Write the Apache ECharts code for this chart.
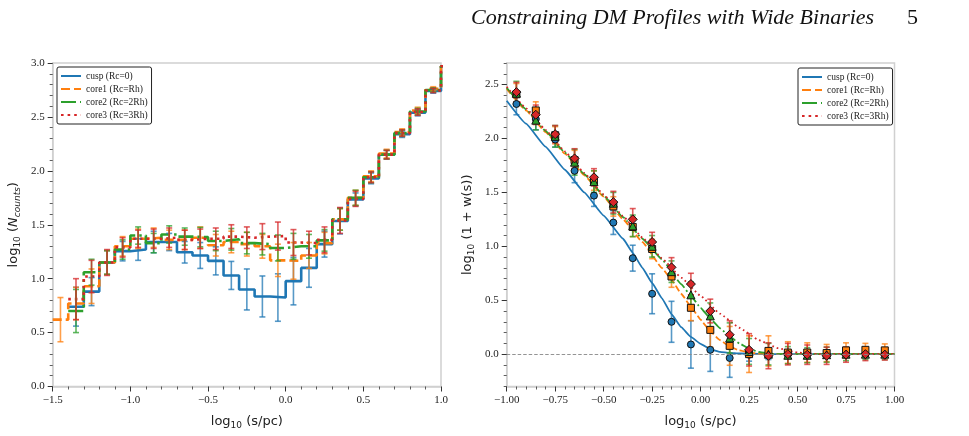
<!DOCTYPE html>
<html><head><meta charset="utf-8">
<script src="https://cdn.jsdelivr.net/npm/echarts@6/dist/echarts.min.js"></script>
<style>html,body{margin:0;padding:0;background:#fff}#c{width:969px;height:436px}</style>
</head><body><div id="c"></div>
<script>
// ---------- shared ----------
const seriesNames = ['cusp (Rc=0)', 'core1 (Rc=Rh)', 'core2 (Rc=2Rh)', 'core3 (Rc=3Rh)'];
const seriesColors = ['#1f77b4', '#ff7f0e', '#2ca02c', '#d62728'];

// ---------- left panel: log10(N_counts) histograms ----------
const binCenters = [-1.45,-1.35,-1.25,-1.15,-1.05,-0.95,-0.85,-0.75,-0.65,-0.55,-0.45,-0.35,-0.25,-0.15,-0.05,0.05,0.15,0.25,0.35,0.45,0.55,0.65,0.75,0.85,0.95,1.05];
const countsCusp  = [null,0.74,0.88,1.15,1.255,1.27,1.34,1.34,1.245,1.215,1.165,1.03,0.90,0.835,0.825,0.977,1.10,1.32,1.535,1.735,1.93,2.15,2.34,2.54,2.74,2.97];
const countsCore1 = [0.62,0.77,0.93,1.15,1.30,1.37,1.38,1.36,1.36,1.38,1.31,1.34,1.32,1.30,1.17,1.165,1.215,1.33,1.55,1.75,1.95,2.16,2.36,2.56,2.76,2.97];
const countsCore2 = [null,0.70,1.06,1.15,1.27,1.40,1.33,1.41,1.39,1.385,1.35,1.365,1.33,1.32,1.285,1.30,1.30,1.355,1.55,1.75,1.94,2.15,2.35,2.55,2.75,2.97];
const countsCore3 = [null,0.81,1.02,1.15,1.29,1.37,1.37,1.38,1.36,1.37,1.37,1.39,1.38,1.39,1.395,1.335,1.33,1.36,1.54,1.74,1.94,2.15,2.35,2.545,2.745,2.97];
const countErrCusp  = [null,0.18,0.13,0.11,0.09,0.10,0.10,0.08,0.10,0.12,0.13,0.13,0.19,0.19,0.22,0.22,0.18,0.12,0.12,0.06,0.05,0.04,0.03,0.03,0.02,null];
const countErrCore1 = [0.205,0.15,0.16,0.11,0.09,0.09,0.09,0.09,0.09,0.10,0.10,0.10,0.11,0.11,0.15,0.17,0.12,0.10,0.10,0.07,0.05,0.04,0.03,0.03,0.02,null];
const countErrCore2 = [null,0.20,0.12,0.11,0.09,0.08,0.09,0.08,0.08,0.09,0.09,0.10,0.10,0.10,0.12,0.12,0.11,0.10,0.10,0.07,0.05,0.04,0.03,0.03,0.02,null];
const countErrCore3 = [null,0.19,0.15,0.12,0.09,0.08,0.09,0.09,0.09,0.09,0.10,0.11,0.10,0.12,0.13,0.12,0.11,0.12,0.12,0.07,0.05,0.04,0.03,0.03,0.02,null];
const leftXTicks = [-1.5, 1.0, 0.5];   // min, max, interval
const leftYTicks = [0, 3.0, 0.5];

// ---------- right panel: log10(1 + w(s)) ----------
const sCenters = [-0.95,-0.85,-0.75,-0.65,-0.55,-0.45,-0.35,-0.25,-0.15,-0.05,0.05,0.15,0.25,0.35,0.45,0.55,0.65,0.75,0.85,0.95];
const wCusp  = [2.32,2.18,1.99,1.70,1.47,1.22,0.89,0.56,0.30,0.09,0.04,-0.035,-0.005,0.0,0.0,0.0,0.0,0.005,0.005,0.01];
const wCore1 = [2.41,2.26,2.03,1.80,1.61,1.37,1.18,0.975,0.72,0.43,0.225,0.077,0.0,0.03,0.015,0.015,0.01,0.035,0.04,0.035];
const wCore2 = [2.42,2.17,2.02,1.78,1.60,1.40,1.19,1.00,0.765,0.55,0.355,0.15,0.025,0.0,-0.01,-0.01,-0.005,0.0,0.0,0.0];
const wCore3 = [2.43,2.22,2.04,1.815,1.64,1.41,1.25,1.04,0.805,0.65,0.40,0.18,0.04,-0.015,0.0,-0.005,-0.015,-0.005,0.0,-0.005];
const wErrCusp  = [0.10,0.10,0.07,0.11,0.10,0.11,0.12,0.185,0.19,0.22,0.20,0.18,0.06,0.05,0.04,0.04,0.03,0.03,0.03,0.03];
const wErrCore1 = [0.10,0.08,0.08,0.09,0.09,0.09,0.09,0.09,0.10,0.12,0.16,0.18,0.17,0.14,0.10,0.09,0.08,0.07,0.06,0.06];
const wErrCore2 = [0.11,0.09,0.10,0.12,0.10,0.10,0.10,0.10,0.10,0.12,0.12,0.14,0.12,0.10,0.08,0.07,0.07,0.06,0.05,0.05];
const wErrCore3 = [0.09,0.09,0.08,0.09,0.08,0.10,0.10,0.09,0.09,0.10,0.11,0.13,0.15,0.12,0.10,0.09,0.08,0.07,0.06,0.05];
// model curves
const curveXCusp  = [-1.0,-0.9,-0.8,-0.7,-0.6,-0.5,-0.4,-0.35,-0.3,-0.25,-0.2,-0.15,-0.1,-0.05,0.0,0.05,0.1,0.15,0.2,0.3,0.4,1.0];
const curveYCusp  = [2.35,2.137,1.924,1.71,1.50,1.285,1.07,0.94,0.80,0.66,0.52,0.37,0.25,0.16,0.095,0.045,0.022,0.012,0.006,0.002,0.0,0.0];
const curveXCore1 = [-1.0,-0.9,-0.8,-0.7,-0.6,-0.5,-0.4,-0.3,-0.2,-0.15,-0.1,-0.05,0.0,0.05,0.1,0.15,0.2,0.25,0.3,0.4,1.0];
const curveYCore1 = [2.46,2.26,2.06,1.86,1.66,1.46,1.25,1.04,0.80,0.69,0.56,0.44,0.32,0.21,0.13,0.07,0.035,0.015,0.005,0.0,0.0];
const curveXCore2 = [-1.0,-0.9,-0.8,-0.7,-0.6,-0.5,-0.4,-0.3,-0.2,-0.1,-0.05,0.0,0.05,0.1,0.15,0.2,0.25,0.3,0.35,0.4,1.0];
const curveYCore2 = [2.47,2.27,2.07,1.87,1.67,1.47,1.27,1.07,0.88,0.65,0.54,0.43,0.33,0.24,0.165,0.10,0.05,0.02,0.007,0.0,0.0];
const curveXCore3 = [-1.0,-0.9,-0.8,-0.7,-0.6,-0.5,-0.4,-0.3,-0.2,-0.1,0.0,0.1,0.2,0.3,0.4,0.5,0.6,1.0];
const curveYCore3 = [2.48,2.28,2.08,1.88,1.68,1.48,1.28,1.08,0.89,0.71,0.54,0.375,0.245,0.13,0.055,0.015,0.0,0.0];
const rightXTicks = [-1.0, 1.0, 0.25];
const rightYRange = [-0.3, 2.7];
const rightYMajor = [0, 0.5, 1.0, 1.5, 2.0, 2.5];

// ---------- helpers ----------
const counts = [countsCusp, countsCore1, countsCore2, countsCore3];
const countErrs = [countErrCusp, countErrCore1, countErrCore2, countErrCore3];
const wVals = [wCusp, wCore1, wCore2, wCore3];
const wErrs = [wErrCusp, wErrCore1, wErrCore2, wErrCore3];
const curveXs = [curveXCusp, curveXCore1, curveXCore2, curveXCore3];
const curveYs = [curveYCusp, curveYCore1, curveYCore2, curveYCore3];
const HALF_BIN = 0.05;

function stepData(centers, vals) {
  const out = [];
  let last = null;
  centers.forEach((c, i) => {
    if (vals[i] == null) return;
    out.push([c - HALF_BIN, vals[i]]);
    last = [c + HALF_BIN, vals[i]];
  });
  if (last) out.push(last);
  return out;
}
function errData(xs, vals, errs) {
  const out = [];
  xs.forEach((x, i) => {
    if (vals[i] == null || errs[i] == null) return;
    out.push([x, vals[i], errs[i]]);
  });
  return out;
}
function errRender(color, cap, width, opacity) {
  return function (params, api) {
    const x = api.value(0), y = api.value(1), e = api.value(2);
    const t = api.coord([x, y + e]), b = api.coord([x, y - e]);
    const st = { stroke: color, lineWidth: width, opacity: opacity };
    return { type: 'group', children: [
      { type: 'line', shape: { x1: t[0], y1: t[1], x2: b[0], y2: b[1] }, style: st },
      { type: 'line', shape: { x1: t[0] - cap, y1: t[1], x2: t[0] + cap, y2: t[1] }, style: st },
      { type: 'line', shape: { x1: b[0] - cap, y1: b[1], x2: b[0] + cap, y2: b[1] }, style: st }
    ]};
  };
}
const minus = s => s.replace('-', '\u2212');
const fmt = d => v => minus((Math.abs(v) < 1e-9 ? 0 : v).toFixed(d));

const dashL = [[], [9, 4], [15, 4, 2.5, 4], [2.6, 4]];
const dashR = [[], [6.5, 2.8], [11, 2.8, 1.8, 2.8], [1.8, 3]];
const markers = ['circle', 'rect', 'triangle', 'diamond'];
const markerSize = [7, 7, 8, 9];

const SERIF = 'Liberation Serif';
const SANS = 'DejaVu Sans';
const spine = '#d0d0d0';
const tickC = '#333';
const labelStyle = { fontFamily: SERIF, fontSize: 11, color: '#222' };
const richName = {
  t: { fontFamily: SANS, fontSize: 13, color: '#222' },
  s: { fontFamily: SANS, fontSize: 9, color: '#222', padding: [8, 0, 0, 0] },
  i: { fontFamily: SANS, fontSize: 13, color: '#222', fontStyle: 'italic' },
  si: { fontFamily: SANS, fontSize: 9, color: '#222', fontStyle: 'italic', padding: [8, 0, 0, 0] }
};

const series = [];
// left panel
for (let k = 0; k < 4; k++) {
  series.push({
    name: seriesNames[k], type: 'line', xAxisIndex: 0, yAxisIndex: 0,
    step: 'end', symbol: 'none', showSymbol: false, data: stepData(binCenters, counts[k]),
    lineStyle: { color: seriesColors[k], width: 2.6, type: dashL[k].length ? dashL[k] : 'solid' },
    itemStyle: { color: seriesColors[k] }, z: 2, clip: true, silent: true
  });
}
for (let k = 0; k < 4; k++) {
  series.push({
    name: seriesNames[k] + ' err', type: 'custom', xAxisIndex: 0, yAxisIndex: 0,
    renderItem: errRender(seriesColors[k], 3, 1.6, 0.75), encode: { x: 0, y: 1 },
    data: errData(binCenters, counts[k], countErrs[k]), z: 3, silent: true
  });
}
// right panel curves
for (let k = 0; k < 4; k++) {
  series.push({
    name: seriesNames[k], type: 'line', xAxisIndex: 1, yAxisIndex: 1,
    symbol: 'none', showSymbol: false, smooth: 0.1, smoothMonotone: 'x',
    data: curveXs[k].map((x, i) => [x, curveYs[k][i]]),
    lineStyle: { color: seriesColors[k], width: 1.8, type: dashR[k].length ? dashR[k] : 'solid' },
    itemStyle: { color: seriesColors[k] }, z: 2, silent: true,
    markLine: k === 0 ? { silent: true, symbol: 'none', label: { show: false },
      lineStyle: { color: '#888', width: 0.9, type: [3.5, 2] }, data: [{ yAxis: 0 }], animation: false } : undefined
  });
}
for (let k = 0; k < 4; k++) {
  series.push({
    name: seriesNames[k] + ' werr', type: 'custom', xAxisIndex: 1, yAxisIndex: 1,
    renderItem: errRender(seriesColors[k], 3, 1.6, 0.75), encode: { x: 0, y: 1 },
    data: errData(sCenters, wVals[k], wErrs[k]), z: 3, silent: true
  });
}
for (let k = 0; k < 4; k++) {
  series.push({
    name: seriesNames[k] + ' pts', type: 'scatter', xAxisIndex: 1, yAxisIndex: 1,
    symbol: markers[k], symbolSize: markerSize[k],
    data: sCenters.map((x, i) => [x, wVals[k][i]]),
    itemStyle: { color: seriesColors[k], borderColor: '#111', borderWidth: 1, opacity: 1 },
    z: 4, silent: true
  });
}

const legendBase = {
  data: seriesNames, orient: 'vertical', itemWidth: 20, itemHeight: 8, itemGap: 3,
  padding: [4, 4, 4, 3], borderColor: '#222', borderWidth: 1, borderRadius: 2,
  backgroundColor: '#fff', selectedMode: false,
  itemStyle: { opacity: 0, borderWidth: 0 },
  textStyle: { fontFamily: SERIF, fontSize: 9.5, color: '#222' }
};

const axisCommon = {
  axisLine: { show: true, onZero: false, lineStyle: { color: spine, width: 1.5 } },
  axisTick: { show: true, length: 5, lineStyle: { color: tickC, width: 1 } },
  minorTick: { show: true, splitNumber: 5, length: 3, lineStyle: { color: tickC, width: 0.8 } },
  splitLine: { show: false }, minorSplitLine: { show: false }
};

const option = {
  animation: false,
  backgroundColor: '#fff',
  title: [
    { text: 'Constraining DM Profiles with Wide Binaries', left: 471, top: 7, padding: 0,
      textStyle: { fontFamily: SERIF, fontStyle: 'italic', fontWeight: 'normal', fontSize: 22, color: '#111' } },
    { text: '5', left: 907, top: 7, padding: 0,
      textStyle: { fontFamily: SERIF, fontWeight: 'normal', fontSize: 22, color: '#111' } }
  ],
  legend: [
    Object.assign({}, legendBase, { left: 57, top: 67 }),
    Object.assign({}, legendBase, { left: 798, top: 68 })
  ],
  grid: [
    { left: 52.7, top: 63, width: 388.3, height: 323.5, show: true, borderColor: spine, borderWidth: 1.5, backgroundColor: 'transparent' },
    { left: 506.7, top: 63, width: 387.8, height: 323.5, show: true, borderColor: spine, borderWidth: 1.5, backgroundColor: 'transparent' }
  ],
  xAxis: [
    Object.assign({}, axisCommon, {
      type: 'value', gridIndex: 0, min: leftXTicks[0], max: leftXTicks[1], interval: leftXTicks[2],
      axisLabel: Object.assign({ formatter: fmt(1), margin: 8 }, labelStyle),
      name: '{t|log}{s|10}{t| (s/pc)}', nameLocation: 'middle', nameGap: 27,
      nameTextStyle: { rich: richName }
    }),
    Object.assign({}, axisCommon, {
      type: 'value', gridIndex: 1, min: rightXTicks[0], max: rightXTicks[1], interval: rightXTicks[2],
      axisLabel: Object.assign({ formatter: fmt(2), margin: 8 }, labelStyle),
      name: '{t|log}{s|10}{t| (s/pc)}', nameLocation: 'middle', nameGap: 27,
      nameTextStyle: { rich: richName }
    })
  ],
  yAxis: [
    Object.assign({}, axisCommon, {
      type: 'value', gridIndex: 0, min: leftYTicks[0], max: leftYTicks[1], interval: leftYTicks[2],
      axisLabel: Object.assign({ formatter: fmt(1), margin: 8 }, labelStyle),
      name: '{t|log}{s|10}{t| (}{i|N}{si|counts}{t|)}', nameLocation: 'middle', nameGap: 31,
      nameTextStyle: { rich: richName }
    }),
    Object.assign({}, axisCommon, {
      type: 'value', gridIndex: 1, min: rightYRange[0], max: rightYRange[1], position: 'left',
      minorTick: { show: false },
      axisTick: { show: true, length: 5, customValues: rightYMajor, lineStyle: { color: tickC, width: 1 } },
      axisLabel: Object.assign({ formatter: fmt(1), margin: 8, customValues: rightYMajor }, labelStyle),
      name: '{t|log}{s|10}{t| (1 + w(s))}', nameLocation: 'middle', nameGap: 31,
      nameTextStyle: { rich: richName }
    }),
    {
      type: 'value', gridIndex: 1, min: rightYRange[0], max: rightYRange[1], interval: 0.1, position: 'left', offset: 0,
      axisLine: { show: false, onZero: false }, axisLabel: { show: false }, splitLine: { show: false },
      axisTick: { show: true, length: 3, lineStyle: { color: tickC, width: 0.8 } }
    }
  ],
  series: series
};

const chart = echarts.init(document.getElementById('c'), null, { renderer: 'canvas' });
chart.setOption(option);
</script>
</body></html>
